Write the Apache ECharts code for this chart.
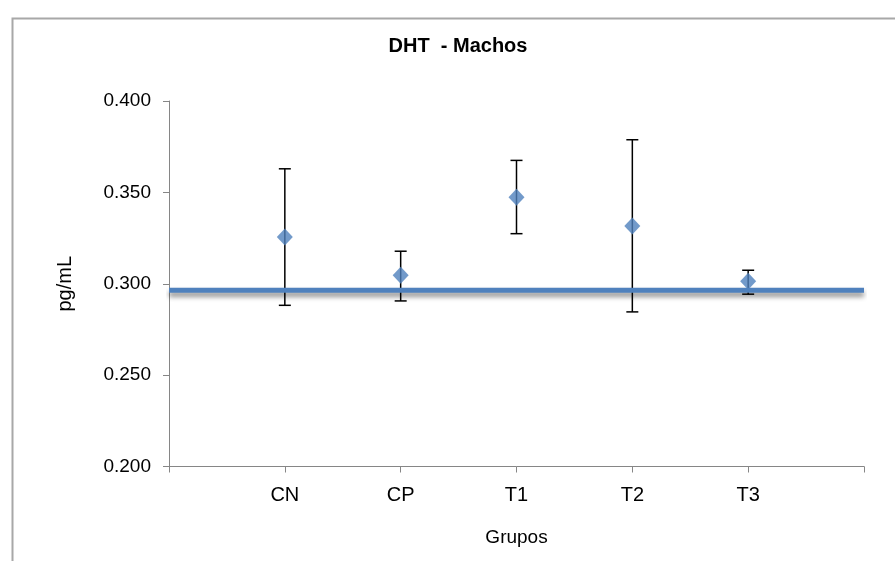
<!DOCTYPE html>
<html>
<head>
<meta charset="utf-8">
<script src="https://cdn.jsdelivr.net/npm/echarts@6/dist/echarts.min.js"></script>
<style>html,body{margin:0;padding:0;background:#fff}#c{width:895px;height:561px}</style>
</head>
<body>
<div id="c"></div>
<script>
const categories = ['', 'CN', 'CP', 'T1', 'T2', 'T3', ''];
const groups = ['CN', 'CP', 'T1', 'T2', 'T3'];
const means = [0.3256, 0.3046, 0.3474, 0.3316, 0.3014];
const upper = [0.3629, 0.3178, 0.3675, 0.3788, 0.3074];
const lower = [0.2882, 0.2906, 0.3274, 0.2846, 0.2943];
const refLine = 0.2965;
const yTicks = { min: 0.2, max: 0.4, interval: 0.05 };

const chart = echarts.init(document.getElementById('c'));
const font = "'Liberation Sans', Arial, sans-serif";

chart.setOption({
  animation: false,
  backgroundColor: '#fff',
  graphic: [{
    type: 'rect', left: 10, top: 16, shape: { width: 1000, height: 1000 },
    style: { fill: 'none', stroke: '#a8a8a8', lineWidth: 2 }, z: -1
  }],
  title: {
    text: 'DHT  - Machos', left: 453, top: 31, textAlign: 'center',
    textStyle: { fontFamily: font, fontSize: 20, fontWeight: 'bold', color: '#000' }
  },
  grid: { left: 169, right: 31, top: 101, bottom: 94.5, containLabel: false },
  xAxis: {
    type: 'category', data: categories, boundaryGap: false,
    name: 'Grupos', nameLocation: 'middle', nameGap: 62,
    nameTextStyle: { fontFamily: font, fontSize: 19, color: '#000' },
    axisLine: { lineStyle: { color: '#868686', width: 1 } },
    axisTick: { show: true, length: 6, inside: false, alignWithLabel: true, lineStyle: { color: '#868686' } },
    axisLabel: { fontFamily: font, fontSize: 20, color: '#000', margin: 19, interval: 0 },
    splitLine: { show: false }
  },
  yAxis: {
    type: 'value', min: yTicks.min, max: yTicks.max, interval: yTicks.interval,
    name: 'pg/mL', nameLocation: 'middle', nameGap: 94, nameRotate: 90,
    nameTextStyle: { fontFamily: font, fontSize: 20, color: '#000' },
    axisLine: { show: true, lineStyle: { color: '#868686', width: 1 } },
    axisTick: { show: true, length: 6, lineStyle: { color: '#868686' } },
    axisLabel: { fontFamily: font, fontSize: 19, color: '#000', margin: 18,
      formatter: v => v.toFixed(3) },
    splitLine: { show: false }
  },
  series: [
    {
      type: 'custom', name: 'err', z: 2,
      data: groups.map((g, i) => [g, lower[i], upper[i]]),
      encode: { x: 0, y: [1, 2] },
      renderItem: (params, api) => {
        const x = api.value(0);
        const lo = api.coord([x, api.value(1)]);
        const hi = api.coord([x, api.value(2)]);
        const hw = 6;
        const st = { stroke: '#000', lineWidth: 1.5 };
        return { type: 'group', children: [
          { type: 'line', shape: { x1: lo[0], y1: lo[1], x2: hi[0], y2: hi[1] }, style: st },
          { type: 'line', shape: { x1: hi[0] - hw, y1: hi[1], x2: hi[0] + hw, y2: hi[1] }, style: st },
          { type: 'line', shape: { x1: lo[0] - hw, y1: lo[1], x2: lo[0] + hw, y2: lo[1] }, style: st }
        ]};
      }
    },
    {
      type: 'line', name: 'ref', z: 3, symbol: 'none', silent: true,
      data: categories.map(() => refLine),
      lineStyle: { color: '#4F81BD', width: 5, shadowColor: 'rgba(0,0,0,0.45)', shadowBlur: 5, shadowOffsetY: 4 }
    },
    {
      type: 'scatter', name: 'mean', z: 4, symbol: 'diamond', symbolSize: [16, 17],
      data: groups.map((g, i) => [g, means[i]]),
      itemStyle: { color: '#4F81BD' }
    }
  ]
});
</script>
</body>
</html>
